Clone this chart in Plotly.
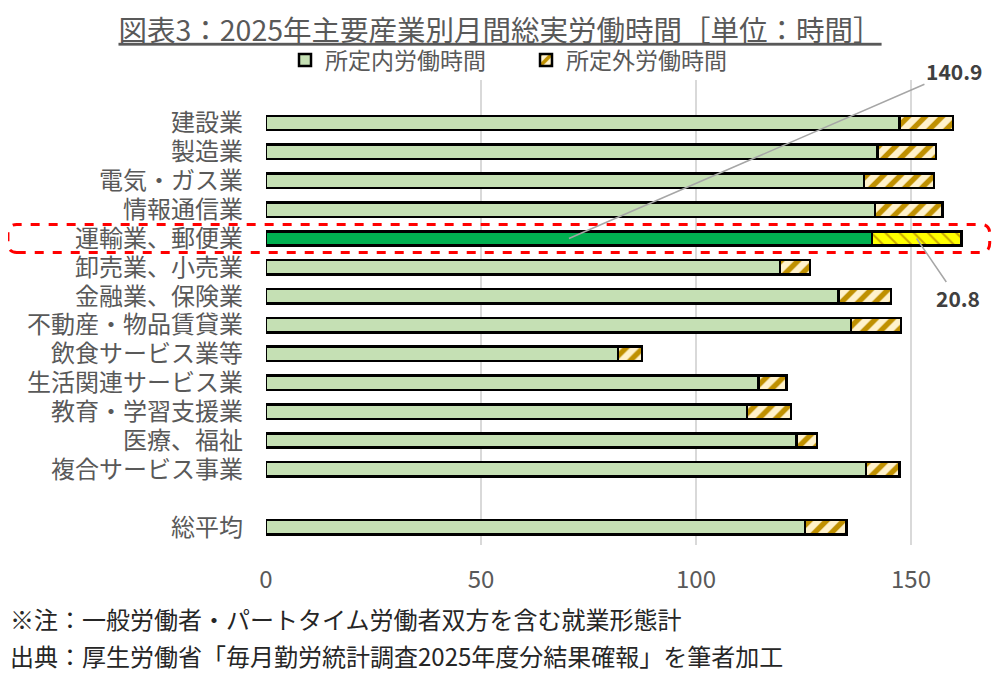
import plotly.graph_objects as go

# categories top to bottom, " " is the empty slot above the average
categories = ["建設業", "製造業", "電気・ガス業", "情報通信業", "運輸業、郵便業",
              "卸売業、小売業", "金融業、保険業", "不動産・物品賃貸業", "飲食サービス業等",
              "生活関連サービス業", "教育・学習支援業", "医療、福祉", "複合サービス事業",
              " ", "総平均"]
scheduled = [147.3, 142.2, 139.1, 141.6, 140.9, 119.5, 133.1, 136.0, 81.9,
             114.5, 111.9, 123.4, 139.5, None, 125.3]
overtime = [12.5, 13.6, 16.3, 15.7, 20.8, 7.0, 12.2, 11.7, 5.5,
            6.6, 10.2, 4.7, 7.8, None, 9.7]
highlight = "運輸業、郵便業"
xticks = [0, 50, 100, 150]

FONT = "Noto Sans CJK JP"
GRAY = "#595959"
YRANGE = [14.62, -1.49]

hi = categories.index(highlight)
green = ["#00B050" if c == highlight else "#C5E0B4" for c in categories]
over_rest = [None if c == highlight else v for c, v in zip(categories, overtime)]
over_hi = [v if c == highlight else None for c, v in zip(categories, overtime)]

fig = go.Figure()
fig.add_trace(go.Bar(
    y=categories, x=scheduled, orientation="h", name="所定内労働時間",
    marker=dict(color=green, line=dict(color="black", width=2.5)),
))
fig.add_trace(go.Bar(
    y=categories, x=over_rest, orientation="h", name="所定外労働時間",
    marker=dict(color="#FFF2CC", line=dict(color="black", width=2.5),
                pattern=dict(shape="/", fgcolor="#BF9000", bgcolor="#FFF2CC",
                             fgopacity=1, size=12, solidity=0.45)),
))
fig.add_trace(go.Bar(
    y=categories, x=over_hi, orientation="h", name="所定外労働時間",
    showlegend=False,
    marker=dict(color="#FFFF00", line=dict(color="black", width=2.5),
                pattern=dict(shape="\\", fgcolor="#C8A800", bgcolor="#FFFF00",
                             fgopacity=1, size=10, solidity=0.2)),
))

s_val = scheduled[hi]
o_val = overtime[hi]

# data labels with leader lines for the highlighted row
fig.add_annotation(x=s_val / 2, y=highlight, text="<b>%.1f</b>" % s_val,
                   showarrow=True, arrowhead=0, arrowwidth=1.5, arrowcolor="#A6A6A6",
                   ax=385, ay=-167, font=dict(family=FONT, size=21, color="#404040"))
fig.add_annotation(x=s_val + o_val / 2, y=highlight, text="<b>%.1f</b>" % o_val,
                   showarrow=True, arrowhead=0, arrowwidth=1.5, arrowcolor="#A6A6A6",
                   ax=41, ay=60, font=dict(family=FONT, size=21, color="#404040"))

# red dashed box round the highlighted row (paper coords)
span = YRANGE[0] - YRANGE[1]
yc = (YRANGE[0] - hi) / span
hh = 0.485 / span
x0, x1 = -0.353, 0.990
y0, y1 = yc - hh, yc + hh
rx, ry = 0.012, 0.02
path = ("M {a},{y0} L {b},{y0} Q {x1},{y0} {x1},{c} L {x1},{d} Q {x1},{y1} {b},{y1} "
        "L {a},{y1} Q {x0},{y1} {x0},{d} L {x0},{c} Q {x0},{y0} {a},{y0} Z").format(
    a=x0 + rx, b=x1 - rx, c=y0 + ry, d=y1 - ry, x0=x0, x1=x1, y0=y0, y1=y1)
fig.add_shape(type="path", path=path, xref="paper", yref="paper",
              line=dict(color="#FF0000", width=3, dash="dash"))

# notes under the chart
fig.add_annotation(xref="paper", yref="paper", x=-0.353, y=-0.157, xanchor="left",
                   yanchor="middle", showarrow=False,
                   text="※注：一般労働者・パートタイム労働者双方を含む就業形態計",
                   font=dict(family=FONT, size=24, color="#262626"))
fig.add_annotation(xref="paper", yref="paper", x=-0.353, y=-0.237, xanchor="left",
                   yanchor="middle", showarrow=False,
                   text="出典：厚生労働省「毎月勤労統計調査2025年度分結果確報」を筆者加工",
                   font=dict(family=FONT, size=24, color="#262626"))

fig.update_layout(
    width=992, height=671,
    barmode="stack", bargap=0.5,
    plot_bgcolor="white", paper_bgcolor="white",
    margin=dict(l=258, r=3, t=72, b=134),
    title=dict(text="<u>図表3：2025年主要産業別月間総実労働時間［単位：時間］</u>",
               x=0.496, xanchor="center", y=0.966, yanchor="middle",
               font=dict(family=FONT, size=28.5, color=GRAY)),
    legend=dict(orientation="h", x=0.026, xanchor="left", y=1.043, yanchor="middle",
                font=dict(family=FONT, size=23, color=GRAY), traceorder="normal",
                itemwidth=30, entrywidth=196, bgcolor="rgba(0,0,0,0)"),
    showlegend=True,
    font=dict(family=FONT, color=GRAY),
)
fig.update_xaxes(range=[0, 170], tickvals=xticks, showgrid=True, gridcolor="#D9D9D9",
                 gridwidth=2, zeroline=False, showline=False, ticks="",
                 ticklabelstandoff=18, tickfont=dict(family=FONT, size=24, color=GRAY))
fig.update_yaxes(categoryorder="array", categoryarray=categories, range=YRANGE,
                 tickmode="array", tickvals=categories, ticktext=categories,
                 showgrid=False, zeroline=False, showline=False, ticks="",
                 ticklabelstandoff=22, tickfont=dict(family=FONT, size=24, color=GRAY))

fig.write_html("out.html")
